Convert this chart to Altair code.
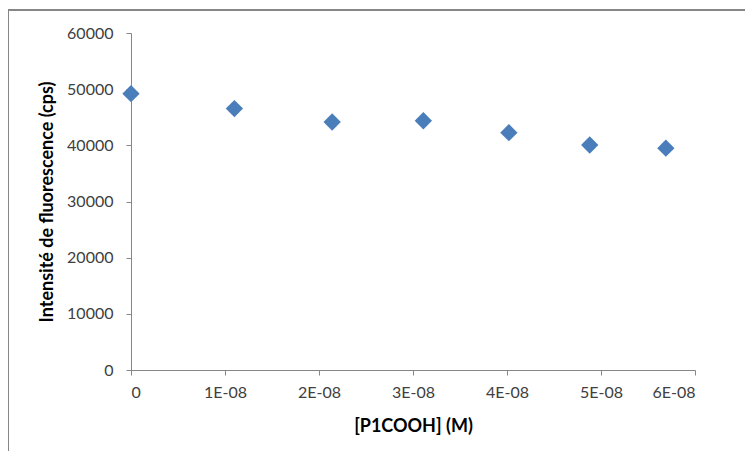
import altair as alt
import pandas as pd

conc = [0.0, 1.10e-8, 2.14e-8, 3.11e-8, 4.02e-8, 4.88e-8, 5.69e-8]
intensity = [49200, 46550, 44150, 44380, 42250, 40060, 39500]
x_ticks = [0, 1e-8, 2e-8, 3e-8, 4e-8, 5e-8, 6e-8]
y_ticks = [0, 10000, 20000, 30000, 40000, 50000, 60000]

df = pd.DataFrame({"conc": conc, "intensity": intensity})

FONT = "Lato"
AX = "#868686"

points = alt.Chart(df).mark_point(
    shape="diamond", filled=True, size=300, color="#4a7ebb", opacity=1
).encode(
    x=alt.X("conc:Q", title="[P1COOH] (M)",
            scale=alt.Scale(domain=[0, 6e-8], nice=False, zero=True),
            axis=alt.Axis(values=x_ticks,
                          labelExpr="datum.value == 0 ? '0' : round(datum.value*1e8) + 'E-08'",
                          labelPadding=9, titlePadding=17)),
    y=alt.Y("intensity:Q", title="Intensité de fluorescence (cps)",
            scale=alt.Scale(domain=[0, 60000], nice=False),
            axis=alt.Axis(values=y_ticks, format="d", labelPadding=13, titlePadding=10)),
)

border = alt.Chart(alt.Data(values=[{"a": 1}])).mark_rect(
    fill=None, stroke=AX, strokeWidth=2, clip=False
).encode(
    x=alt.value(-123), y=alt.value(-23), x2=alt.value(700), y2=alt.value(500)
)

chart = alt.layer(border, points).properties(
    width=564, height=337,
    autosize=alt.AutoSizeParams(type="none"),
    padding={"left": 123, "top": 25, "right": 50, "bottom": 81},
).configure_view(stroke=None).configure_axis(
    grid=False, domainColor=AX, tickColor=AX, tickSize=5,
    labelFont=FONT, labelFontSize=16, labelColor="#404040",
    titleFont=FONT, titleFontSize=18, titleFontWeight="bold", titleColor="#000000",
)

chart.save("out.html", embed_options={"renderer": "svg", "actions": False})
